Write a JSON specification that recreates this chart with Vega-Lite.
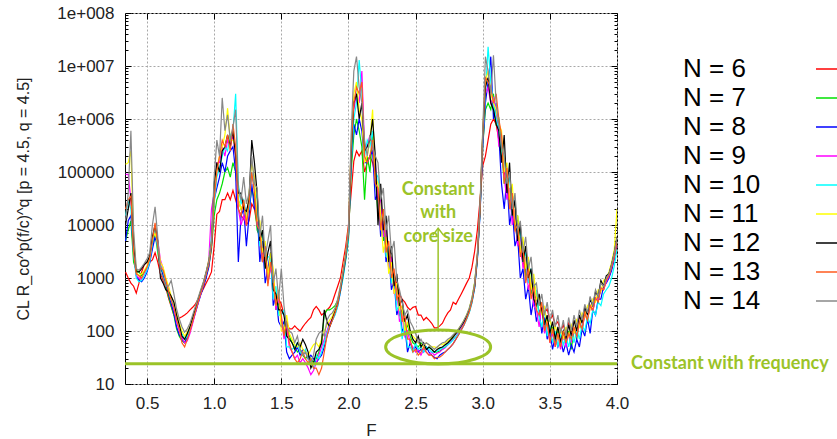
{
"$schema":"https://vega.github.io/schema/vega-lite/v6.json",
"width":492,"height":371,
"padding":{"left":15,"top":4,"right":0,"bottom":0},
"autosize":{"type":"pad"},
"background":"white",
"config":{
 "view":{"stroke":"#000","strokeWidth":1},
 "font":"Liberation Sans",
 "axis":{"labelFont":"Liberation Sans","labelFontSize":17,"labelColor":"#222","titleFont":"Liberation Sans","titleFontSize":16,"titleFontWeight":"normal","titleColor":"#222","domain":false,"tickColor":"#000","tickWidth":1,"gridColor":"#a8a8a8","gridDash":[2,2],"gridOpacity":1,"gridWidth":1}
},
"datasets":{"curves":[
{"F":0.34,"6":1300,"7":5e3,"8":5e3,"9":9e4,"10":1.5e4,"11":1.4e5,"12":1e4,"13":2e4,"14":1.2e4},
{"F":0.36,"6":1000,"7":8e3,"8":1.2e4,"9":9e4,"10":3e4,"11":1.5e5,"12":2e4,"13":3e4,"14":4e4},
{"F":0.38,"6":800,"7":1.2e4,"8":1.5e4,"9":3e4,"10":2e4,"11":2.5e5,"12":4e4,"13":3.5e4,"14":6e5},
{"F":0.40,"6":700,"7":2e3,"8":3e3,"9":4e3,"10":3e3,"11":6e3,"12":4e3,"13":3e3,"14":8e3},
{"F":0.42,"6":520,"7":1400,"8":1100,"9":1100,"10":1000,"11":1300,"12":1300,"13":1200,"14":1500},
{"F":0.44,"6":800,"7":1300,"8":900,"9":1000,"10":850,"11":1100,"12":1300,"13":1100,"14":1400},
{"F":0.46,"6":1300,"7":1100,"8":850,"9":950,"10":900,"11":1200,"12":1500,"13":1000,"14":1600},
{"F":0.48,"6":1800,"7":1300,"8":1000,"9":1100,"10":1100,"11":1400,"12":1800,"13":1300,"14":1900},
{"F":0.50,"6":2000,"7":1600,"8":1300,"9":1500,"10":1400,"11":1700,"12":2000,"13":1600,"14":2300},
{"F":0.52,"6":2000,"7":2200,"8":1900,"9":2400,"10":2000,"11":2500,"12":2600,"13":2300,"14":3000},
{"F":0.54,"6":2200,"7":4000,"8":3500,"9":5000,"10":4500,"11":5500,"12":6000,"13":5000,"14":1e4},
{"F":0.56,"6":3000,"7":7000,"8":6000,"9":8000,"10":9000,"11":7000,"12":1e4,"13":1.1e4,"14":2.2e4},
{"F":0.58,"6":2000,"7":3000,"8":4000,"9":5000,"10":3500,"11":4500,"12":5000,"13":4000,"14":6000},
{"F":0.60,"6":1200,"7":1500,"8":1800,"9":2200,"10":1700,"11":2000,"12":1000,"13":1600,"14":1300},
{"F":0.62,"6":900,"7":1200,"8":1100,"9":1500,"10":1300,"11":1600,"12":800,"13":1400,"14":1000},
{"F":0.64,"6":650,"7":700,"8":800,"9":900,"10":850,"11":1000,"12":600,"13":900,"14":700},
{"F":0.66,"6":420,"7":450,"8":500,"9":650,"10":600,"11":700,"12":550,"13":550,"14":700},
{"F":0.68,"6":290,"7":300,"8":330,"9":400,"10":380,"11":450,"12":450,"13":380,"14":900},
{"F":0.70,"6":200,"7":200,"8":220,"9":260,"10":300,"11":350,"12":350,"13":280,"14":500},
{"F":0.72,"6":170,"7":110,"8":120,"9":150,"10":180,"11":220,"12":200,"13":160,"14":260},
{"F":0.74,"6":175,"7":80,"8":85,"9":100,"10":120,"11":140,"12":130,"13":110,"14":170},
{"F":0.76,"6":185,"7":65,"8":70,"9":75,"10":90,"11":100,"12":80,"13":60,"14":120},
{"F":0.78,"6":200,"7":60,"8":60,"9":60,"10":70,"11":80,"12":70,"13":50,"14":95},
{"F":0.80,"6":220,"7":85,"8":75,"9":65,"10":80,"11":95,"12":90,"13":70,"14":110},
{"F":0.82,"6":250,"7":110,"8":100,"9":90,"10":110,"11":120,"12":120,"13":100,"14":140},
{"F":0.84,"6":280,"7":160,"8":150,"9":140,"10":170,"11":180,"12":180,"13":150,"14":200},
{"F":0.86,"6":320,"7":230,"8":220,"9":220,"10":250,"11":270,"12":260,"13":230,"14":290},
{"F":0.88,"6":400,"7":340,"8":330,"9":340,"10":370,"11":400,"12":380,"13":350,"14":420},
{"F":0.90,"6":500,"7":500,"8":480,"9":500,"10":540,"11":580,"12":560,"13":520,"14":600},
{"F":0.92,"6":630,"7":700,"8":680,"9":750,"10":780,"11":820,"12":800,"13":760,"14":850},
{"F":0.94,"6":800,"7":1100,"8":1000,"9":1200,"10":1200,"11":1300,"12":1250,"13":1150,"14":1300},
{"F":0.96,"6":1000,"7":1700,"8":1600,"9":2200,"10":2000,"11":2200,"12":2000,"13":1800,"14":2100},
{"F":0.98,"6":1300,"7":3500,"8":4000,"9":2e4,"10":6000,"11":5000,"12":4500,"13":4000,"14":5000},
{"F":1.00,"6":4000,"7":1.5e4,"8":3e4,"9":4e4,"10":2.5e4,"11":5e4,"12":6e4,"13":3e4,"14":8e4},
{"F":1.02,"6":1.6e4,"7":3e4,"8":5e4,"9":1.5e5,"10":8e4,"11":1.2e5,"12":1.5e5,"13":1e5,"14":4e5},
{"F":1.04,"6":1.8e4,"7":4e4,"8":8e4,"9":1.5e5,"10":1.2e5,"11":2e5,"12":1e5,"13":2e5,"14":2e5},
{"F":1.06,"6":3e4,"7":6e4,"8":1.5e5,"9":3e5,"10":2e5,"11":3e5,"12":2.5e5,"13":4e5,"14":2.5e6},
{"F":1.08,"6":3e4,"7":1e5,"8":1e5,"9":2e5,"10":3e5,"11":5e5,"12":3e5,"13":3e5,"14":6e5},
{"F":1.10,"6":4e4,"7":1.2e5,"8":2e5,"9":4e5,"10":2.5e5,"11":1.6e6,"12":5e5,"13":5e5,"14":1.2e6},
{"F":1.12,"6":3e4,"7":8e4,"8":2.5e5,"9":3e5,"10":5e5,"11":4e5,"12":3e5,"13":2.5e5,"14":4e5},
{"F":1.14,"6":4.5e4,"7":1.5e5,"8":3e5,"9":5e5,"10":6e5,"11":4e5,"12":6e5,"13":8e5,"14":7e5},
{"F":1.16,"6":3e4,"7":1e5,"8":1e5,"9":2e5,"10":3e6,"11":3e5,"12":2e5,"13":3e5,"14":1.5e6},
{"F":1.18,"6":2e4,"7":3e4,"8":2000,"9":2e4,"10":6e4,"11":3e4,"12":4e4,"13":2e4,"14":5e4},
{"F":1.20,"6":1.5e4,"7":2e4,"8":1.5e4,"9":1e4,"10":2.5e4,"11":2e4,"12":4e4,"13":1.5e4,"14":3e4},
{"F":1.22,"6":1.3e4,"7":2.5e4,"8":2e4,"9":1.5e4,"10":3e4,"11":2.5e4,"12":2e4,"13":3e4,"14":8e4},
{"F":1.24,"6":1e4,"7":1.5e4,"8":4000,"9":1e4,"10":1.5e4,"11":1.2e4,"12":1.8e4,"13":1e4,"14":2.5e4},
{"F":1.26,"6":1.2e4,"7":2e4,"8":1.5e4,"9":3e4,"10":2e4,"11":4e4,"12":3e4,"13":2.5e4,"14":4e4},
{"F":1.28,"6":2.5e4,"7":5e4,"8":6e4,"9":8e4,"10":1e5,"11":1.5e5,"12":4e5,"13":1e5,"14":2e5},
{"F":1.30,"6":2e4,"7":3e4,"8":2e4,"9":6e4,"10":5e4,"11":8e4,"12":1.5e5,"13":4e4,"14":6e4},
{"F":1.32,"6":1e4,"7":8000,"8":2e4,"9":1e4,"10":3e4,"11":1.2e4,"12":4e4,"13":1e4,"14":5e4},
{"F":1.34,"6":5000,"7":6000,"8":2000,"9":8000,"10":4000,"11":1.2e4,"12":5000,"13":8000,"14":6000},
{"F":1.36,"6":3200,"7":2000,"8":5000,"9":2000,"10":8000,"11":3000,"12":8000,"13":2000,"14":1.5e4},
{"F":1.38,"6":2000,"7":3000,"8":800,"9":4000,"10":1500,"11":5000,"12":1500,"13":4000,"14":2500},
{"F":1.40,"6":1300,"7":800,"8":1500,"9":800,"10":2500,"11":1000,"12":3000,"13":700,"14":5000},
{"F":1.42,"6":1600,"7":2000,"8":3000,"9":1500,"10":2500,"11":3000,"12":5000,"13":2000,"14":1e4},
{"F":1.44,"6":800,"7":1000,"8":300,"9":1200,"10":400,"11":1500,"12":600,"13":900,"14":800},
{"F":1.46,"6":500,"7":250,"8":500,"9":250,"10":700,"11":300,"12":500,"13":300,"14":1500},
{"F":1.48,"6":400,"7":350,"8":150,"9":400,"10":200,"11":600,"12":250,"13":500,"14":400},
{"F":1.50,"6":320,"7":150,"8":120,"9":180,"10":200,"11":100,"12":250,"13":200,"14":1500},
{"F":1.52,"6":200,"7":100,"8":150,"9":70,"10":250,"11":100,"12":200,"13":80,"14":300},
{"F":1.54,"6":140,"7":150,"8":40,"9":120,"10":50,"11":200,"12":80,"13":150,"14":120},
{"F":1.56,"6":110,"7":80,"8":30,"9":50,"10":50,"11":90,"12":70,"13":60,"14":100},
{"F":1.58,"6":110,"7":60,"8":35,"9":40,"10":45,"11":70,"12":60,"13":40,"14":90},
{"F":1.60,"6":125,"7":50,"8":40,"9":30,"10":50,"11":55,"12":45,"13":30,"14":60},
{"F":1.62,"6":110,"7":40,"8":50,"9":35,"10":60,"11":50,"12":60,"13":25,"14":80},
{"F":1.64,"6":100,"7":45,"8":35,"9":25,"10":40,"11":60,"12":50,"13":30,"14":45},
{"F":1.66,"6":120,"7":35,"8":45,"9":30,"10":35,"11":45,"12":70,"13":40,"14":35},
{"F":1.68,"6":140,"7":30,"8":40,"9":25,"10":45,"11":40,"12":55,"13":30,"14":40},
{"F":1.70,"6":160,"7":35,"8":30,"9":20,"10":30,"11":35,"12":40,"13":25,"14":30},
{"F":1.72,"6":180,"7":30,"8":35,"9":15,"10":25,"11":45,"12":20,"13":30,"14":25},
{"F":1.74,"6":250,"7":25,"8":30,"9":18,"10":20,"11":55,"12":25,"13":20,"14":35},
{"F":1.76,"6":290,"7":30,"8":25,"9":25,"10":35,"11":60,"12":40,"13":20,"14":70},
{"F":1.78,"6":250,"7":40,"8":30,"9":35,"10":30,"11":50,"12":45,"13":15,"14":90},
{"F":1.80,"6":200,"7":60,"8":35,"9":50,"10":40,"11":70,"12":60,"13":20,"14":100},
{"F":1.82,"6":220,"7":200,"8":50,"9":70,"10":60,"11":100,"12":250,"13":40,"14":80},
{"F":1.84,"6":250,"7":250,"8":80,"9":100,"10":90,"11":130,"12":150,"13":80,"14":160},
{"F":1.86,"6":280,"7":250,"8":120,"9":140,"10":130,"11":160,"12":120,"13":120,"14":200},
{"F":1.88,"6":350,"7":270,"8":160,"9":170,"10":160,"11":190,"12":170,"13":160,"14":220},
{"F":1.90,"6":500,"7":300,"8":210,"9":220,"10":200,"11":260,"12":230,"13":220,"14":270},
{"F":1.92,"6":700,"7":380,"8":300,"9":310,"10":290,"11":380,"12":330,"13":320,"14":400},
{"F":1.94,"6":1000,"7":600,"8":550,"9":560,"10":540,"11":700,"12":600,"13":620,"14":700},
{"F":1.96,"6":2000,"7":1100,"8":1100,"9":1200,"10":1000,"11":1400,"12":1200,"13":1300,"14":1300},
{"F":1.98,"6":4000,"7":2300,"8":2400,"9":2600,"10":2200,"11":3000,"12":2500,"13":2700,"14":2800},
{"F":2.00,"6":1e4,"7":5500,"8":6000,"9":7000,"10":5000,"11":8000,"12":6500,"13":7000,"14":7500},
{"F":2.02,"6":4e4,"7":1e5,"8":1.5e5,"9":2e5,"10":1.5e5,"11":3e5,"12":2e5,"13":3e5,"14":5e5},
{"F":2.04,"6":1.6e5,"7":5e5,"8":8e5,"9":1.5e6,"10":1e6,"11":3e6,"12":2e6,"13":2e6,"14":8e6},
{"F":2.06,"6":2.5e5,"7":1e6,"8":5e5,"9":3e6,"10":2e6,"11":5e6,"12":3e6,"13":4e6,"14":1.5e7},
{"F":2.08,"6":2e5,"7":6e5,"8":1e6,"9":2e6,"10":1.3e7,"11":1.5e6,"12":1e6,"13":3e6,"14":4e6},
{"F":2.10,"6":2.5e5,"7":3e5,"8":6e5,"9":8e6,"10":3e6,"11":1e6,"12":2e6,"13":5e6,"14":2e6},
{"F":2.12,"6":1e5,"7":3e4,"8":1.5e5,"9":3e5,"10":2e5,"11":1.5e5,"12":2.5e5,"13":2e5,"14":4e5},
{"F":2.14,"6":1.5e5,"7":2e5,"8":1.5e5,"9":3e5,"10":4e5,"11":2e5,"12":3e5,"13":1.5e5,"14":2e5},
{"F":2.16,"6":2e5,"7":1e5,"8":2e5,"9":5e5,"10":3e5,"11":4e5,"12":4e5,"13":2e5,"14":5e5},
{"F":2.18,"6":1.5e5,"7":5e5,"8":2.5e5,"9":3e5,"10":6e5,"11":1.5e6,"12":1e6,"13":4e5,"14":3e5},
{"F":2.20,"6":8e4,"7":1e5,"8":3e4,"9":1.5e5,"10":1e5,"11":8e4,"12":2e5,"13":6e4,"14":2e5},
{"F":2.22,"6":3e4,"7":1.5e4,"8":4e4,"9":3e4,"10":8e4,"11":6e4,"12":1e4,"13":5e4,"14":1.5e5},
{"F":2.24,"6":1.5e4,"7":4e4,"8":6000,"9":3e4,"10":1e4,"11":1.5e4,"12":6e4,"13":8000,"14":3e4},
{"F":2.26,"6":1e4,"7":5000,"8":1.2e4,"9":6000,"10":2e4,"11":3000,"12":8000,"13":2e4,"14":5e4},
{"F":2.28,"6":5000,"7":8000,"8":2000,"9":8000,"10":2500,"11":6000,"12":1.5e4,"13":3000,"14":8000},
{"F":2.30,"6":3200,"7":1500,"8":3000,"9":1500,"10":4000,"11":1200,"12":2000,"13":5000,"14":1.5e4},
{"F":2.32,"6":2000,"7":2500,"8":600,"9":2500,"10":800,"11":2000,"12":4000,"13":1000,"14":3000},
{"F":2.34,"6":1000,"7":600,"8":900,"9":500,"10":1200,"11":500,"12":700,"13":1500,"14":5000},
{"F":2.36,"6":800,"7":700,"8":200,"9":700,"10":250,"11":800,"12":1200,"13":400,"14":900},
{"F":2.38,"6":500,"7":200,"8":300,"9":150,"10":300,"11":250,"12":300,"13":500,"14":600},
{"F":2.40,"6":400,"7":250,"8":100,"9":200,"10":70,"11":300,"12":400,"13":150,"14":350},
{"F":2.42,"6":350,"7":100,"8":120,"9":80,"10":150,"11":100,"12":150,"13":200,"14":200},
{"F":2.44,"6":280,"7":130,"8":40,"9":100,"10":50,"11":150,"12":200,"13":70,"14":250},
{"F":2.46,"6":250,"7":80,"8":60,"9":60,"10":50,"11":90,"12":100,"13":70,"14":150},
{"F":2.48,"6":280,"7":60,"8":45,"9":50,"10":40,"11":80,"12":70,"13":40,"14":120},
{"F":2.50,"6":290,"7":55,"8":50,"9":40,"10":60,"11":70,"12":60,"13":45,"14":90},
{"F":2.52,"6":200,"7":50,"8":40,"9":45,"10":45,"11":60,"12":80,"13":35,"14":60},
{"F":2.54,"6":200,"7":60,"8":45,"9":35,"10":50,"11":55,"12":50,"13":40,"14":70},
{"F":2.56,"6":160,"7":50,"8":40,"9":45,"10":40,"11":50,"12":60,"13":50,"14":55},
{"F":2.58,"6":180,"7":45,"8":50,"9":40,"10":50,"11":60,"12":45,"13":40,"14":60},
{"F":2.60,"6":160,"7":50,"8":40,"9":35,"10":45,"11":55,"12":50,"13":35,"14":55},
{"F":2.62,"6":140,"7":45,"8":35,"9":40,"10":40,"11":50,"12":45,"13":35,"14":50},
{"F":2.64,"6":115,"7":40,"8":32,"9":35,"10":40,"11":50,"12":40,"13":30,"14":45},
{"F":2.66,"6":115,"7":40,"8":30,"9":38,"10":42,"11":48,"12":45,"13":32,"14":50},
{"F":2.68,"6":125,"7":42,"8":35,"9":40,"10":45,"11":55,"12":48,"13":32,"14":55},
{"F":2.70,"6":140,"7":45,"8":38,"9":45,"10":48,"11":55,"12":50,"13":35,"14":60},
{"F":2.72,"6":180,"7":50,"8":40,"9":48,"10":50,"11":60,"12":55,"13":40,"14":62},
{"F":2.74,"6":220,"7":58,"8":45,"9":55,"10":55,"11":65,"12":60,"13":45,"14":70},
{"F":2.76,"6":250,"7":65,"8":50,"9":62,"10":60,"11":72,"12":68,"13":50,"14":75},
{"F":2.78,"6":350,"7":75,"8":58,"9":70,"10":68,"11":80,"12":78,"13":58,"14":85},
{"F":2.80,"6":320,"7":90,"8":70,"9":80,"10":78,"11":95,"12":90,"13":70,"14":95},
{"F":2.82,"6":400,"7":105,"8":85,"9":95,"10":90,"11":110,"12":105,"13":85,"14":110},
{"F":2.84,"6":500,"7":125,"8":105,"9":115,"10":108,"11":130,"12":125,"13":105,"14":130},
{"F":2.86,"6":630,"7":150,"8":130,"9":140,"10":130,"11":160,"12":150,"13":130,"14":160},
{"F":2.88,"6":800,"7":190,"8":170,"9":180,"10":165,"11":200,"12":190,"13":170,"14":200},
{"F":2.90,"6":1000,"7":260,"8":230,"9":240,"10":220,"11":270,"12":250,"13":230,"14":270},
{"F":2.92,"6":1600,"7":400,"8":350,"9":380,"10":340,"11":420,"12":380,"13":360,"14":420},
{"F":2.94,"6":3200,"7":800,"8":650,"9":750,"10":650,"11":850,"12":700,"13":700,"14":800},
{"F":2.96,"6":8000,"7":2500,"8":2200,"9":2600,"10":2200,"11":2800,"12":2400,"13":2500,"14":2800},
{"F":2.98,"6":3e4,"7":1.8e4,"8":1.6e4,"9":2e4,"10":1.8e4,"11":2.2e4,"12":2e4,"13":2e4,"14":2.5e4},
{"F":3.00,"6":1.3e5,"7":3e5,"8":3e5,"9":4e5,"10":4e5,"11":6e5,"12":5e5,"13":5e5,"14":6e5},
{"F":3.02,"6":2e5,"7":1.5e6,"8":2e6,"9":3e6,"10":3e6,"11":5e6,"12":4e6,"13":6e6,"14":1.5e7},
{"F":3.04,"6":4e5,"7":2e6,"8":5e6,"9":4e6,"10":2.3e7,"11":8e6,"12":6e6,"13":5e6,"14":8e6},
{"F":3.06,"6":8e5,"7":1.5e6,"8":1.5e7,"9":2e6,"10":5e6,"11":3e6,"12":2e6,"13":4e6,"14":3e6},
{"F":3.08,"6":1e6,"7":3e6,"8":1e6,"9":2.5e6,"10":2e6,"11":2e6,"12":1.5e6,"13":2e6,"14":1.6e7},
{"F":3.10,"6":8e5,"7":8e5,"8":2e6,"9":1.5e6,"10":1e6,"11":1.5e6,"12":8e5,"13":3e6,"14":2e6},
{"F":3.12,"6":4e5,"7":1e6,"8":5e5,"9":3e5,"10":6e5,"11":8e5,"12":6e5,"13":1e6,"14":8e5},
{"F":3.14,"6":2e5,"7":3e5,"8":6e4,"9":5e5,"10":2e5,"11":6e5,"12":1.5e5,"13":5e5,"14":3e5},
{"F":3.16,"6":1e5,"7":6e4,"8":2e4,"9":8e4,"10":2e5,"11":1e5,"12":5e5,"13":6e4,"14":2e5},
{"F":3.18,"6":6e4,"7":1e5,"8":8e4,"9":3e4,"10":5e4,"11":1.5e5,"12":4e4,"13":1.2e5,"14":6e4},
{"F":3.20,"6":3e4,"7":2e4,"8":1e4,"9":5e4,"10":8e4,"11":3e4,"12":1.5e5,"13":2e4,"14":1e5},
{"F":3.22,"6":1.6e4,"7":4e4,"8":2e4,"9":1e4,"10":1.5e4,"11":6e4,"12":1.5e4,"13":4e4,"14":2e4},
{"F":3.24,"6":1e4,"7":8000,"8":4000,"9":2e4,"10":3e4,"11":1e4,"12":3e4,"13":8000,"14":4e4},
{"F":3.26,"6":5000,"7":1.5e4,"8":6000,"9":4000,"10":5000,"11":1.5e4,"12":5000,"13":1e4,"14":8000},
{"F":3.28,"6":3200,"7":3000,"8":1000,"9":6000,"10":8000,"11":3000,"12":1e4,"13":2500,"14":1.2e4},
{"F":3.30,"6":2000,"7":5000,"8":1500,"9":1500,"10":2000,"11":6000,"12":2000,"13":4000,"14":3000},
{"F":3.32,"6":1300,"7":1000,"8":400,"9":2500,"10":3000,"11":1500,"12":4000,"13":800,"14":6000},
{"F":3.34,"6":1000,"7":2000,"8":700,"9":600,"10":800,"11":2500,"12":1000,"13":1500,"14":1500},
{"F":3.36,"6":700,"7":500,"8":200,"9":1000,"10":1500,"11":600,"12":1500,"13":400,"14":2500},
{"F":3.38,"6":500,"7":800,"8":400,"9":300,"10":400,"11":1200,"12":400,"13":700,"14":700},
{"F":3.40,"6":400,"7":500,"8":150,"9":250,"10":600,"11":400,"12":300,"13":250,"14":800},
{"F":3.42,"6":320,"7":200,"8":250,"9":120,"10":180,"11":450,"12":500,"13":200,"14":300},
{"F":3.44,"6":280,"7":300,"8":90,"9":300,"10":120,"11":200,"12":250,"13":350,"14":500},
{"F":3.46,"6":220,"7":110,"8":180,"9":90,"10":250,"11":300,"12":130,"13":100,"14":200},
{"F":3.48,"6":260,"7":180,"8":70,"9":150,"10":80,"11":120,"12":200,"13":150,"14":350},
{"F":3.50,"6":160,"7":80,"8":100,"9":60,"10":130,"11":180,"12":90,"13":60,"14":150},
{"F":3.52,"6":200,"7":120,"8":45,"9":90,"10":60,"11":90,"12":150,"13":110,"14":250},
{"F":3.54,"6":130,"7":60,"8":80,"9":50,"10":100,"11":130,"12":70,"13":50,"14":120},
{"F":3.56,"6":150,"7":100,"8":50,"9":90,"10":50,"11":70,"12":120,"13":90,"14":200},
{"F":3.58,"6":100,"7":50,"8":70,"9":45,"10":90,"11":110,"12":60,"13":50,"14":90},
{"F":3.60,"6":130,"7":90,"8":40,"9":80,"10":55,"11":70,"12":100,"13":100,"14":160},
{"F":3.62,"6":90,"7":60,"8":60,"9":50,"10":80,"11":120,"12":70,"13":60,"14":80},
{"F":3.64,"6":140,"7":100,"8":35,"9":90,"10":50,"11":80,"12":130,"13":90,"14":180},
{"F":3.66,"6":100,"7":45,"8":55,"9":60,"10":90,"11":130,"12":80,"13":70,"14":100},
{"F":3.68,"6":150,"7":110,"8":40,"9":110,"10":60,"11":90,"12":160,"13":120,"14":200},
{"F":3.70,"6":130,"7":70,"8":70,"9":80,"10":110,"11":170,"12":100,"13":80,"14":120},
{"F":3.72,"6":180,"7":150,"8":50,"9":150,"10":70,"11":120,"12":200,"13":150,"14":250},
{"F":3.74,"6":160,"7":100,"8":110,"9":110,"10":130,"11":220,"12":140,"13":110,"14":160},
{"F":3.76,"6":230,"7":220,"8":80,"9":200,"10":100,"11":180,"12":280,"13":220,"14":320},
{"F":3.78,"6":220,"7":160,"8":170,"9":170,"10":180,"11":300,"12":200,"13":160,"14":220},
{"F":3.80,"6":300,"7":300,"8":90,"9":300,"10":140,"11":250,"12":400,"13":300,"14":450},
{"F":3.82,"6":300,"7":240,"8":250,"9":230,"10":250,"11":400,"12":300,"13":250,"14":300},
{"F":3.84,"6":420,"7":420,"8":200,"9":420,"10":200,"11":350,"12":550,"13":420,"14":600},
{"F":3.86,"6":420,"7":380,"8":400,"9":380,"10":350,"11":600,"12":450,"13":350,"14":450},
{"F":3.88,"6":600,"7":650,"8":400,"9":650,"10":300,"11":550,"12":900,"13":650,"14":800},
{"F":3.90,"6":650,"7":600,"8":700,"9":600,"10":500,"11":900,"12":700,"13":600,"14":700},
{"F":3.92,"6":900,"7":900,"8":800,"9":850,"10":600,"11":1000,"12":1100,"13":900,"14":1000},
{"F":3.94,"6":1100,"7":1100,"8":1000,"9":1100,"10":700,"11":1300,"12":1200,"13":1100,"14":1200},
{"F":3.96,"6":1600,"7":1500,"8":1400,"9":1600,"10":1000,"11":2000,"12":1800,"13":1600,"14":1800},
{"F":3.98,"6":2500,"7":2500,"8":2300,"9":2500,"10":1700,"11":3500,"12":3000,"13":2500,"14":3000},
{"F":4.00,"6":4000,"7":5000,"8":5000,"9":5000,"10":3500,"11":2e4,"12":6000,"13":5000,"14":6000}
]},
"layer":[
 {"data":{"name":"curves"},
  "transform":[{"fold":["6","7","8","9","10","11","12","13","14"],"as":["N","v"]}],
  "mark":{"type":"line","strokeWidth":1.2,"clip":true},
  "encoding":{
   "x":{"field":"F","type":"quantitative","scale":{"domain":[0.336,4],"nice":false,"zero":false},
        "axis":{"orient":"bottom","values":[0.5,1,1.5,2,2.5,3,3.5,4],"grid":true,"tickSize":-6,"labelPadding":17,"title":"F","titlePadding":11,"titleFontSize":17,"labelFlush":false}},
   "y":{"field":"v","type":"quantitative","scale":{"type":"log","domain":[10,100000000],"nice":false},
        "axis":{"orient":"left","values":[10,100,1000,10000,100000,1000000,10000000,100000000],"grid":true,"tickSize":-6,"labelPadding":17,"labelExpr":"datum.value >= 1000000 ? '1e+00' + round(log(datum.value)/LN10) : format(datum.value, 'd')","title":"CL R_co^p(f/c)^q [p = 4.5, q = 4.5]","titlePadding":25}},
   "color":{"field":"N","type":"nominal","sort":null,
     "scale":{"domain":["6","7","8","9","10","11","12","13","14"],"range":["#ff0000","#00e000","#0000ff","#ff00ff","#00ffff","#ffff00","#000000","#ff5a1e","#888888"]},
     "legend":{"orient":"none","legendX":698,"legendY":43,"title":null,"labelExpr":"'N = ' + datum.label","labelFont":"Liberation Sans","labelFontSize":26,"labelColor":"#000","symbolType":"M -5 0 L 5 0","symbolSize":64,"symbolStrokeWidth":1.5,"symbolFillColor":"transparent","labelOffset":-166,"rowPadding":3,"labelLimit":300}}
  }},
 {"data":{"values":[{"F":1,"v":100}]},
  "mark":{"type":"point","opacity":0},
  "encoding":{
   "x":{"field":"F","type":"quantitative","scale":{"domain":[0.336,4],"nice":false,"zero":false},
        "axis":{"orient":"top","values":[0.5,1,1.5,2,2.5,3,3.5,4],"grid":false,"labels":false,"tickSize":-6,"title":null}},
   "y":{"field":"v","type":"quantitative","scale":{"type":"log","domain":[10,100000000],"nice":false},
        "axis":{"orient":"left","values":[20,30,40,50,60,70,80,90,200,300,400,500,600,700,800,900,2e3,3e3,4e3,5e3,6e3,7e3,8e3,9e3,2e4,3e4,4e4,5e4,6e4,7e4,8e4,9e4,2e5,3e5,4e5,5e5,6e5,7e5,8e5,9e5,2e6,3e6,4e6,5e6,6e6,7e6,8e6,9e6,2e7,3e7,4e7,5e7,6e7,7e7,8e7,9e7],"grid":false,"labels":false,"tickSize":-3,"title":null}}
  }},
 {"data":{"values":[{"F":1,"v":100}]},
  "mark":{"type":"point","opacity":0},
  "encoding":{
   "x":{"field":"F","type":"quantitative","scale":{"domain":[0.336,4],"nice":false,"zero":false},"axis":null},
   "y":{"field":"v","type":"quantitative","scale":{"type":"log","domain":[10,100000000],"nice":false},
        "axis":{"orient":"right","values":[10,100,1000,10000,100000,1000000,10000000,100000000],"grid":false,"labels":false,"tickSize":-6,"title":null}}
  }},
 {"data":{"values":[{"F":1,"v":100}]},
  "mark":{"type":"point","opacity":0},
  "encoding":{
   "x":{"field":"F","type":"quantitative","scale":{"domain":[0.336,4],"nice":false,"zero":false},"axis":null},
   "y":{"field":"v","type":"quantitative","scale":{"type":"log","domain":[10,100000000],"nice":false},
        "axis":{"orient":"right","values":[20,30,40,50,60,70,80,90,200,300,400,500,600,700,800,900,2e3,3e3,4e3,5e3,6e3,7e3,8e3,9e3,2e4,3e4,4e4,5e4,6e4,7e4,8e4,9e4,2e5,3e5,4e5,5e5,6e5,7e5,8e5,9e5,2e6,3e6,4e6,5e6,6e6,7e6,8e6,9e6,2e7,3e7,4e7,5e7,6e7,7e7,8e7,9e7],"grid":false,"labels":false,"tickSize":-3,"title":null}}
  }},
 {"data":{"values":[{"level":24}]},
  "mark":{"type":"rule","stroke":"#9bc328","strokeWidth":3},
  "encoding":{"y":{"field":"level","type":"quantitative","scale":{"type":"log","domain":[10,100000000],"nice":false},"axis":null}}},
 {"data":{"values":[{"F":4,"v":24,"label":"Constant with frequency"}]},
  "mark":{"type":"text","align":"left","baseline":"middle","dx":14,"font":"Lato","fontWeight":"bold","fontSize":18,"color":"#9bc328"},
  "encoding":{
   "x":{"field":"F","type":"quantitative","scale":{"domain":[0.336,4],"nice":false,"zero":false},"axis":null},
   "y":{"field":"v","type":"quantitative","scale":{"type":"log","domain":[10,100000000],"nice":false},"axis":null},
   "text":{"field":"label","type":"nominal"}}},
 {"data":{"values":[{"F":2.668,"v":50}]},
  "mark":{"type":"point","shape":"M -1 0 A 1 0.324 0 1 1 1 0 A 1 0.324 0 1 1 -1 0 Z","size":11025,"filled":false,"stroke":"#9bc328","strokeWidth":3,"opacity":1},
  "encoding":{
   "x":{"field":"F","type":"quantitative","scale":{"domain":[0.336,4],"nice":false,"zero":false},"axis":null},
   "y":{"field":"v","type":"quantitative","scale":{"type":"log","domain":[10,100000000],"nice":false},"axis":null}}},
 {"data":{"values":[{"F":2.668,"v":105,"v2":8700}]},
  "mark":{"type":"rule","stroke":"#9bc328","strokeWidth":1.5},
  "encoding":{
   "x":{"field":"F","type":"quantitative","scale":{"domain":[0.336,4],"nice":false,"zero":false},"axis":null},
   "y":{"field":"v","type":"quantitative","scale":{"type":"log","domain":[10,100000000],"nice":false},"axis":null},
   "y2":{"field":"v2"}}},
 {"data":{"values":[{"F":2.668,"v":8700}]},
  "mark":{"type":"point","shape":"M -1 1.3 L 0 0 L 1 1.3","size":121,"filled":false,"stroke":"#9bc328","strokeWidth":1.5,"opacity":1},
  "encoding":{
   "x":{"field":"F","type":"quantitative","scale":{"domain":[0.336,4],"nice":false,"zero":false},"axis":null},
   "y":{"field":"v","type":"quantitative","scale":{"type":"log","domain":[10,100000000],"nice":false},"axis":null}}},
 {"data":{"values":[{"F":2.668,"v":46000,"label":["Constant","with","core size"]}]},
  "mark":{"type":"text","align":"center","baseline":"middle","font":"Lato","fontWeight":"bold","fontSize":18,"lineHeight":23.5,"color":"#9bc328"},
  "encoding":{
   "x":{"field":"F","type":"quantitative","scale":{"domain":[0.336,4],"nice":false,"zero":false},"axis":null},
   "y":{"field":"v","type":"quantitative","scale":{"type":"log","domain":[10,100000000],"nice":false},"axis":null},
   "text":{"field":"label","type":"nominal"}}}
],
"resolve":{"axis":{"x":"independent","y":"independent"}}
}
